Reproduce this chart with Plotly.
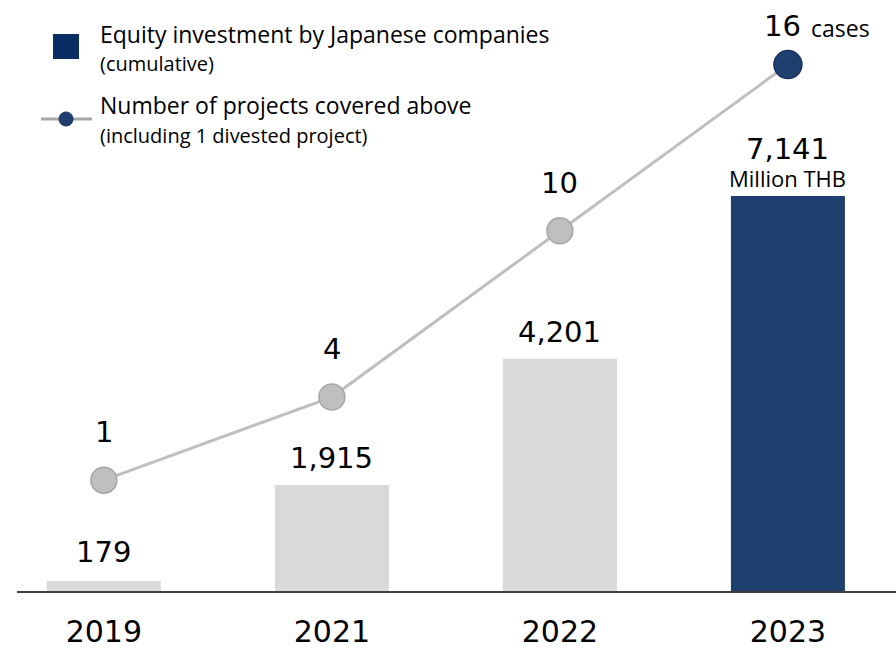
import plotly.graph_objects as go

years = ["2019", "2021", "2022", "2023"]
investment = [179, 1915, 4201, 7141]
investment_labels = ["179", "1,915", "4,201", "7,141"]
projects = [1, 4, 10, 16]
project_labels = ["1", "4", "10", "16"]

GREY_BAR = "#d9d9d9"
NAVY = "#1f3f6e"
LINE_GREY = "#bfbfbf"
NUM_FONT = "DejaVu Sans"
TEXT_FONT = "Open Sans"

# plot area in pixels: x 17..896, y 0..591
L, R, T, B = 17, 0, 0, 58
W, H = 896, 649
PW, PH = W - L - R, H - T - B


def px(x):
    return (x - L) / PW


def py(y):
    return (H - B - y) / PH


fig = go.Figure()

fig.add_trace(go.Bar(
    x=years, y=investment,
    marker=dict(color=[GREY_BAR, GREY_BAR, GREY_BAR, NAVY], line_width=0),
    width=0.5, showlegend=False, hoverinfo="skip",
))

fig.add_trace(go.Scatter(
    x=years, y=projects, yaxis="y2", mode="lines+markers",
    line=dict(color=LINE_GREY, width=3),
    marker=dict(size=[26, 26, 26, 28], opacity=1,
                color=[LINE_GREY, LINE_GREY, LINE_GREY, NAVY],
                line=dict(color=["#a6a6a6", "#a6a6a6", "#a6a6a6", "#163060"], width=1.5)),
    showlegend=False, hoverinfo="skip",
))

num_font = dict(family=NUM_FONT, size=29, color="#000000")
annotations = []
bar_shift = [29, 27, 27, 47]
for i, (v, lab) in enumerate(zip(investment, investment_labels)):
    annotations.append(dict(x=i, y=v, xref="x", yref="y", text=lab, showarrow=False,
                            yanchor="middle", yshift=bar_shift[i], font=num_font))
annotations.append(dict(x=3, y=investment[3], xref="x", yref="y", text="Million THB", showarrow=False,
                        yanchor="middle", yshift=18, font=dict(family=TEXT_FONT, size=22, color="#000000")))

for i, (v, lab) in enumerate(zip(projects, project_labels)):
    annotations.append(dict(x=i, y=v, xref="x", yref="y2", text=lab, showarrow=False,
                            yanchor="middle", yshift=48 if i < 3 else 39, xshift=0 if i < 3 else -5,
                            font=num_font))
annotations.append(dict(x=3, y=projects[3], xref="x", yref="y2", text="cases", showarrow=False,
                        xanchor="left", yanchor="middle", yshift=37, xshift=21,
                        font=dict(family=TEXT_FONT, size=23, color="#000000")))

# custom legend
legend_text = [
    ("Equity investment by Japanese companies", 34, 23),
    ("(cumulative)", 64, 20),
    ("Number of projects covered above", 105, 23),
    ("(including 1 divested project)", 135, 20),
]
for text, y, size in legend_text:
    annotations.append(dict(xref="paper", yref="paper", x=px(98), y=py(y), text=text,
                            showarrow=False, xanchor="left", yanchor="middle",
                            font=dict(family=TEXT_FONT, size=size, color="#000000")))

shapes = [
    dict(type="rect", xref="paper", yref="paper", x0=px(53), x1=px(79), y0=py(34), y1=py(59),
         fillcolor="#0a2d64", line_width=0),
    dict(type="line", xref="paper", yref="paper", x0=px(41), x1=px(92), y0=py(119), y1=py(119),
         line=dict(color="#a6a6a6", width=3)),
    dict(type="circle", xref="paper", yref="paper", x0=px(59), x1=px(73), y0=py(112), y1=py(126),
         fillcolor=NAVY, line=dict(color="#163060", width=1)),
]

fig.update_layout(
    width=W, height=H,
    margin=dict(l=L, r=R, t=T, b=B),
    plot_bgcolor="white", paper_bgcolor="white",
    bargap=0.5,
    xaxis=dict(type="category", range=[-0.381, 3.474], showgrid=False, showline=True,
               linecolor="#404040", linewidth=2, ticks="", automargin=False,
               tickfont=dict(family=NUM_FONT, size=30, color="#000000"),
               ticklabelstandoff=13),
    yaxis=dict(range=[0, 10687], showticklabels=False, showgrid=False, zeroline=False,
               automargin=False),
    yaxis2=dict(range=[-3.0, 18.33], overlaying="y", showticklabels=False, showgrid=False,
                zeroline=False, automargin=False),
    annotations=annotations,
    shapes=shapes,
)

fig.write_html("out.html", config={"displayModeBar": False},
               post_script="document.body.style.margin='0';")
